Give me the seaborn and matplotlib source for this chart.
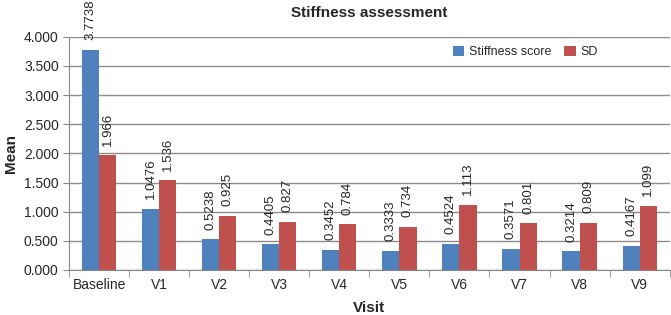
import pandas as pd
import seaborn as sns
import matplotlib.pyplot as plt
import numpy as np

visits = ["Baseline", "V1", "V2", "V3", "V4", "V5", "V6", "V7", "V8", "V9"]
stiffness_score = [3.7738, 1.0476, 0.5238, 0.4405, 0.3452, 0.3333, 0.4524, 0.3571, 0.3214, 0.4167]
sd_values = [1.966, 1.536, 0.925, 0.827, 0.784, 0.734, 1.113, 0.801, 0.809, 1.099]
series_names = ["Stiffness score", "SD"]
y_ticks = [0.0, 0.5, 1.0, 1.5, 2.0, 2.5, 3.0, 3.5, 4.0]

df = pd.DataFrame({
    "Visit": visits * 2,
    "Mean": stiffness_score + sd_values,
    "series": [series_names[0]] * len(visits) + [series_names[1]] * len(visits),
})

sns.set_style("white")
plt.rcParams['font.family'] = ['Liberation Sans', 'DejaVu Sans']

fig = plt.figure(figsize=(6.71, 3.15), dpi=100)
ax = fig.add_axes([0.103, 0.143, 0.895, 0.74])

palette = {"Stiffness score": "#4F81BD", "SD": "#C0504D"}
sns.barplot(data=df, x="Visit", y="Mean", hue="series", palette=palette,
            order=visits, hue_order=series_names, width=0.57, ax=ax,
            saturation=1, edgecolor="none", legend=True)

# value labels
fmt = ["{:.4f}", "{:.3f}"]
for cont, f in zip(ax.containers, fmt):
    labels = [f.format(b.get_height()) for b in cont]
    texts = ax.bar_label(cont, labels=labels, rotation=90, padding=7, fontsize=9.5)
    for t in texts:
        t.set_clip_on(False)

ax.set_ylim(0, 4)
ax.set_xlim(-0.5, len(visits) - 0.5)
ax.set_yticks(y_ticks)
ax.set_yticklabels([f"{v:.3f}" for v in y_ticks], fontsize=10)
ax.tick_params(axis='x', labelsize=10, length=0, pad=6)
ax.tick_params(axis='y', length=4, color="#888888", direction="out", left=True)
ax.set_xticks(np.arange(-0.5, len(visits), 1), minor=True)
ax.tick_params(axis='x', which='minor', length=5, color="#888888", direction="out", bottom=True)

ax.yaxis.grid(True, color="#8c8c8c", linewidth=1)
ax.set_axisbelow(True)
for s in ["top", "right"]:
    ax.spines[s].set_visible(False)
for s in ["left", "bottom"]:
    ax.spines[s].set_color("#888888")

ax.set_xlabel("Visit", fontsize=11, fontweight="bold", labelpad=6)
ax.set_ylabel("Mean", fontsize=11, fontweight="bold", labelpad=4)
fig.text(0.55, 0.96, "Stiffness assessment", ha="center", va="center",
         fontsize=11, fontweight="bold")

ax.legend(loc="center", bbox_to_anchor=(0.76, 0.935), ncol=2, frameon=False,
          fontsize=9, handlelength=0.9, handleheight=0.9, columnspacing=1.0,
          handletextpad=0.4, title=None)

fig.set_facecolor('white')
plt.savefig("out.png", dpi=100)
plt.close(fig)
